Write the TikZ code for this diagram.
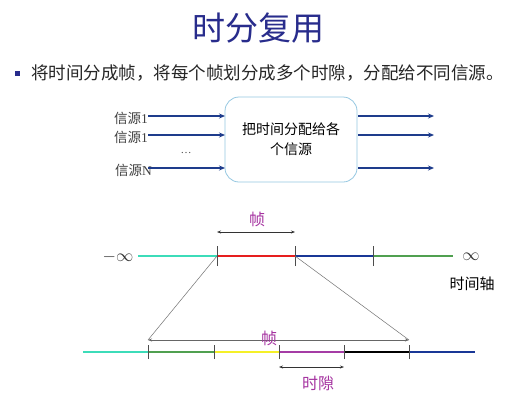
\documentclass[tikz,border=0pt]{standalone}
\usepackage{fontspec}
\setmainfont{Liberation Serif}
\newfontfamily\cjk{Noto Sans CJK SC}
\usetikzlibrary{arrows.meta}
\definecolor{titleblue}{RGB}{40,44,140}
\definecolor{arrblue}{RGB}{30,60,140}
\definecolor{boxedge}{RGB}{150,200,225}
\definecolor{cyanseg}{RGB}{60,220,185}
\definecolor{redseg}{RGB}{230,30,30}
\definecolor{blueseg}{RGB}{25,55,150}
\definecolor{greenseg}{RGB}{80,160,80}
\definecolor{yellowseg}{RGB}{245,240,40}
\definecolor{magseg}{RGB}{165,60,165}
\definecolor{labpurple}{RGB}{165,50,160}
\tikzset{
  srcarrow/.style={draw=arrblue, line width=1.6pt, -{Stealth[length=6pt,width=5pt]}},
  seg/.style={line width=2.4pt},
  tick/.style={draw=black!70, line width=0.6pt},
  spanarrow/.style={draw=black!80, line width=0.8pt, {Stealth[length=4pt,width=3pt]}-{Stealth[length=4pt,width=3pt]}},
  guide/.style={draw=black!55, line width=0.5pt},
  srclabel/.style={font=\cjk\fontsize{13.5}{15}\selectfont, text=black!75, anchor=east, inner sep=0pt},
  purplelabel/.style={font=\cjk\fontsize{16}{18}\selectfont, text=labpurple, inner sep=0pt},
}
\begin{document}
\begin{tikzpicture}[x=1pt,y=-1pt]
\useasboundingbox[fill=white] (0,0) rectangle (532,400);
% title
\node[font=\cjk\fontsize{33}{36}\selectfont, text=titleblue] (title) at (258,28) {时分复用};
\node[fill=titleblue, minimum size=5pt, inner sep=0pt] (bullet) at (17,73) {};
\node[font=\cjk\fontsize{17.5}{20}\selectfont, text=black!85, anchor=west, inner sep=0pt] (desc) at (31,73) {将时间分成帧，将每个帧划分成多个时隙，分配给不同信源。};
% box
\node[draw=boxedge, line width=0.8pt, rounded corners=14pt, minimum width=132pt, minimum height=85pt, align=center,
      font=\cjk\fontsize{14}{20}\selectfont] (box) at (291,139.5) {把时间分配给各\\个信源};
% sources
\coordinate (i1) at (148,116); \coordinate (i2) at (148,135); \coordinate (i3) at (148,168);
\coordinate (b1) at (225,116); \coordinate (b2) at (225,135); \coordinate (b3) at (225,168);
\coordinate (c1) at (358,116); \coordinate (c2) at (358,135); \coordinate (c3) at (358,168);
\coordinate (o1) at (434,116); \coordinate (o2) at (434,135); \coordinate (o3) at (434,168);
\node[srclabel] (s1) at (148,118) {信源\rmfamily 1};
\node[srclabel] (s2) at (148,137) {信源\rmfamily 1};
\node[srclabel] (s3) at (152,170) {信源\rmfamily N};
\node[font=\fontsize{11}{12}\selectfont, text=black!70] (dots) at (186,153) {\dots};
\draw[srcarrow] (i1) -- (b1);
\draw[srcarrow] (i2) -- (b2);
\draw[srcarrow] (i3) -- (b3);
\draw[srcarrow] (c1) -- (o1);
\draw[srcarrow] (c2) -- (o2);
\draw[srcarrow] (c3) -- (o3);
% timeline 1
\coordinate (a0) at (138,256); \coordinate (a1) at (217,256); \coordinate (a2) at (295,256);
\coordinate (a3) at (373,256); \coordinate (a4) at (453,256);
\draw[seg, cyanseg] (a0) -- (a1);
\draw[seg, redseg] (a1) -- (a2);
\draw[seg, blueseg] (a2) -- (a3);
\draw[seg, greenseg] (a3) -- (a4);
\foreach \p in {a1,a2,a3} \draw[tick] ([yshift=-10pt]\p) -- ([yshift=10pt]\p);
\node[font=\fontsize{18}{20}\selectfont, text=black!80] (minf) at (118,257) {$-\infty$};
\node[font=\fontsize{18}{20}\selectfont, text=black!80] (pinf) at (471,257) {$\infty$};
\node[font=\cjk\fontsize{15}{18}\selectfont] (axis) at (472,284) {时间轴};
\coordinate (f1l) at (217,232); \coordinate (f1r) at (295,232);
\draw[spanarrow] (f1l) -- (f1r);
\node[purplelabel] (zhen1) at (257,219) {帧};
% timeline 2
\coordinate (b0) at (83,352); \coordinate (t1) at (148,352); \coordinate (t2) at (214,352);
\coordinate (t3) at (279,352); \coordinate (t4) at (344,352); \coordinate (t5) at (409,352);
\coordinate (t6) at (475,352);
\draw[seg, cyanseg] (b0) -- (t1);
\draw[seg, greenseg] (t1) -- (t2);
\draw[seg, yellowseg] (t2) -- (t3);
\draw[seg, magseg] (t3) -- (t4);
\draw[seg, black] (t4) -- (t5);
\draw[seg, blueseg] (t5) -- (t6);
\foreach \p in {t1,t2,t3,t4,t5} \draw[tick] ([yshift=-7pt]\p) -- ([yshift=7pt]\p);
\coordinate (f2l) at (148,340); \coordinate (f2r) at (409,340);
\draw[guide] (a1) -- (f2l);
\draw[guide] (a2) -- (f2r);
\draw[spanarrow, draw=black!60] (f2l) -- (f2r);
\node[purplelabel] (zhen2) at (269,338) {帧};
\coordinate (sl) at (279,367); \coordinate (sr) at (344,367);
\draw[spanarrow] (sl) -- (sr);
\node[purplelabel] (slot) at (318,383) {时隙};
\end{tikzpicture}
\end{document}
